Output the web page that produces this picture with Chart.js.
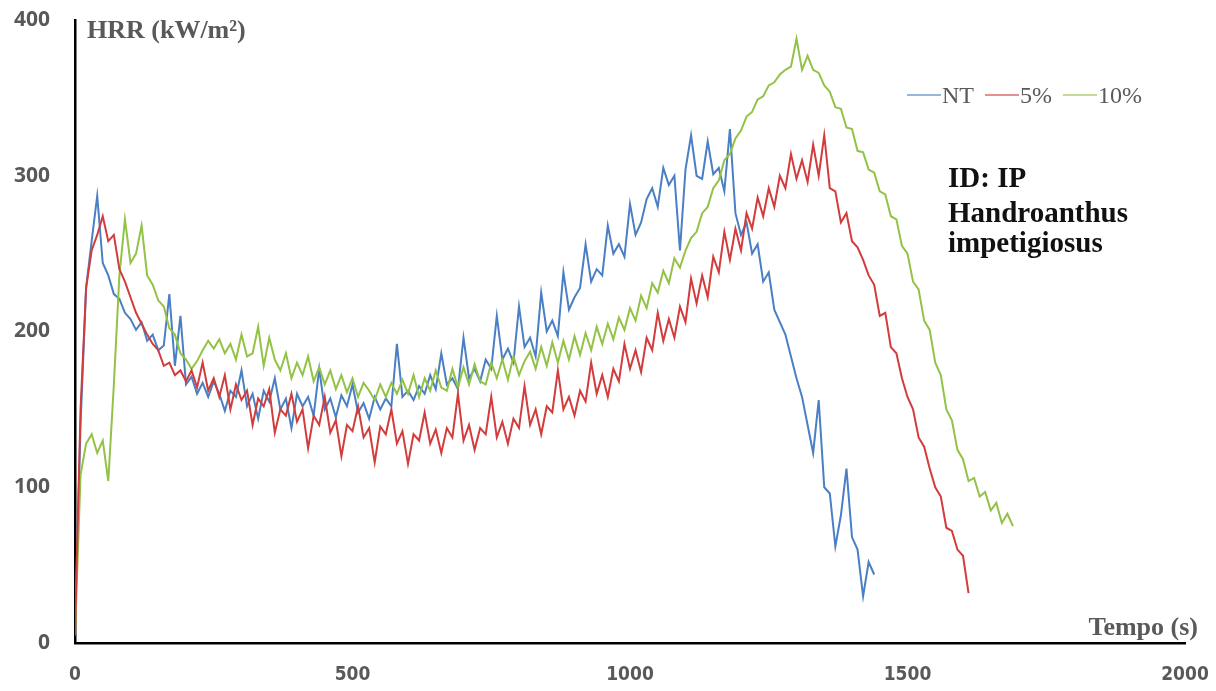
<!DOCTYPE html>
<html>
<head>
<meta charset="utf-8">
<title>HRR - Handroanthus impetigiosus</title>
<script src="https://cdn.jsdelivr.net/npm/chart.js@4.4.1/dist/chart.umd.min.js"></script>
<style>
  html, body { margin: 0; padding: 0; background: #fff; }
  #wrap { width: 1216px; height: 691px; }
</style>
</head>
<body>
<div id="wrap"><canvas id="hrrChart" width="1216" height="691"></canvas></div>
<script>
// Sampling times (s), shared by the three cone calorimeter runs
const tempo = [
  0, 10, 20, 30, 40, 50, 60, 70, 80, 90, 100, 110, 120, 130, 140, 150, 160, 170, 180, 190,
  200, 210, 220, 230, 240, 250, 260, 270, 280, 290, 300, 310, 320, 330, 340, 350, 360, 370, 380, 390,
  400, 410, 420, 430, 440, 450, 460, 470, 480, 490, 500, 510, 520, 530, 540, 550, 560, 570, 580, 590,
  600, 610, 620, 630, 640, 650, 660, 670, 680, 690, 700, 710, 720, 730, 740, 750, 760, 770, 780, 790,
  800, 810, 820, 830, 840, 850, 860, 870, 880, 890, 900, 910, 920, 930, 940, 950, 960, 970, 980, 990,
  1000, 1010, 1020, 1030, 1040, 1050, 1060, 1070, 1080, 1090, 1100, 1110, 1120, 1130, 1140, 1150, 1160, 1170, 1180, 1190,
  1200, 1210, 1220, 1230, 1240, 1250, 1260, 1270, 1280, 1290, 1300, 1310, 1320, 1330, 1340, 1350, 1360, 1370, 1380, 1390,
  1400, 1410, 1420, 1430, 1440, 1450, 1460, 1470, 1480, 1490, 1500, 1510, 1520, 1530, 1540, 1550, 1560, 1570, 1580, 1590,
  1600, 1610, 1620, 1630, 1640, 1650, 1660, 1670, 1680, 1690
];

// Heat release rate (kW/m2) per treatment
const hrrNT = [
  12, 140, 228, 258, 287, 244, 236, 224, 221, 212, 208, 201, 206, 194, 198, 188, 191, 224, 178, 210,
  166, 171, 160, 167, 158, 168, 160, 149, 162, 158, 175, 152, 160, 144, 162, 155, 170, 150, 157, 138,
  160, 152, 158, 146, 176, 150, 157, 145, 159, 152, 166, 148, 154, 144, 158, 150, 157, 152, 192, 158,
  162, 156, 165, 160, 172, 163, 186, 166, 170, 163, 196, 170, 176, 168, 182, 176, 210, 182, 189, 180,
  216, 190, 196, 184, 225, 200, 207, 197, 238, 214, 222, 228, 256, 232, 240, 236, 268, 250, 256, 248,
  282, 262, 270, 285, 292, 280, 305, 294, 300, 252, 304, 326, 300, 298, 322, 301, 305, 290, 330, 276,
  262, 270, 250, 256, 232, 238, 214, 206, 198, 184, 170, 158, 140, 122, 156, 100, 96, 62, 82, 112,
  68, 60, 30, 52, 44
];

const hrr5 = [
  5, 150, 228, 252, 262, 274, 258, 262, 240, 232, 222, 212, 205, 198, 192, 188, 178, 180, 172, 175,
  168, 175, 164, 180, 162, 170, 158, 172, 150, 166, 156, 162, 140, 157, 152, 163, 135, 150, 146, 160,
  142, 150, 125, 146, 140, 158, 135, 143, 120, 140, 136, 152, 132, 138, 116, 139, 134, 150, 128, 136,
  115, 134, 130, 148, 128, 137, 122, 138, 132, 160, 130, 140, 124, 138, 134, 158, 132, 142, 128, 144,
  138, 165, 140, 150, 134, 152, 148, 175, 150, 158, 146, 162, 155, 180, 160, 172, 158, 176, 168, 192,
  176, 188, 174, 196, 188, 212, 194, 208, 196, 216, 206, 234, 218, 236, 222, 248, 238, 264, 246, 266,
  252, 276, 266, 286, 274, 292, 280, 300, 292, 314, 298, 310, 296, 320, 300, 326, 292, 290, 270, 276,
  258, 254, 246, 236, 230, 210, 212, 190, 186, 170, 158, 150, 132, 126, 112, 100, 94, 74, 72, 60,
  56, 32
];

const hrr10 = [
  5, 108, 128, 134, 122, 130, 104, 166, 236, 272, 244, 250, 268, 236, 230, 220, 216, 202, 198, 186,
  182, 176, 181, 188, 194, 189, 195, 186, 192, 182, 198, 184, 186, 203, 178, 196, 182, 175, 186, 170,
  180, 172, 184, 168, 177, 166, 175, 163, 172, 161, 170, 158, 167, 162, 156, 166, 158, 167, 160, 169,
  160, 172, 158, 170, 162, 175, 164, 162, 176, 164, 177, 166, 179, 168, 166, 180, 170, 182, 169, 184,
  172, 181, 187, 176, 190, 178, 193, 180, 194, 182, 197, 185, 199, 188, 203, 192, 205, 195, 209, 201,
  215, 207, 223, 215, 231, 225, 239, 231, 247, 241, 252, 260, 264, 276, 280, 292, 297, 310, 314, 324,
  329, 338, 341, 349, 351, 358, 360, 365, 368, 370, 388, 368, 377, 368, 366, 358, 354, 344, 343, 331,
  330, 316, 315, 304, 302, 290, 288, 274, 272, 255, 250, 232, 227, 207, 201, 180, 172, 150, 143, 124,
  118, 104, 106, 94, 97, 85, 90, 77, 83, 75
];

const seriesNames = ['NT', '5%', '10%'];
const seriesColors = ['#4a7fc4', '#d23c3c', '#93c246'];
const yTicks = [0, 100, 200, 300, 400];
const xTicks = [0, 500, 1000, 1500, 2000];

const ID_LINES = ['ID: IP', 'Handroanthus', 'impetigiosus'];

function toPoints(values) {
  return values.map((v, i) => ({ x: tempo[i], y: v }));
}

// Axis titles, legend and sample label drawn straight onto the canvas
const overlayPlugin = {
  id: 'overlay',
  afterDraw(chart) {
    const ctx = chart.ctx;
    ctx.save();

    ctx.fillStyle = '#595959';
    ctx.textBaseline = 'alphabetic';
    ctx.font = 'bold 26px "Liberation Serif", "Times New Roman", serif';
    ctx.textAlign = 'left';
    ctx.fillText('HRR (kW/m\u00B2)', 87, 38);
    ctx.textAlign = 'right';
    ctx.fillText('Tempo (s)', 1198, 635);

    // legend: short line then name
    ctx.textAlign = 'left';
    ctx.font = '24px "Liberation Serif", "Times New Roman", serif';
    let x = 907;
    const y = 95;
    seriesNames.forEach((name, i) => {
      ctx.strokeStyle = seriesColors[i];
      ctx.globalAlpha = 0.75;
      ctx.lineWidth = 1.3;
      ctx.beginPath();
      ctx.moveTo(x, y);
      ctx.lineTo(x + 34, y);
      ctx.stroke();
      ctx.globalAlpha = 1;
      ctx.fillStyle = '#595959';
      ctx.fillText(name, x + 35, y + 8);
      x += 35 + ctx.measureText(name).width + 11;
    });

    ctx.fillStyle = '#111';
    ctx.font = 'bold 29px "Liberation Serif", "Times New Roman", serif';
    const baselines = [187, 222, 252];
    ID_LINES.forEach((line, i) => ctx.fillText(line, 948, baselines[i]));

    ctx.restore();
  }
};

const ctx = document.getElementById('hrrChart').getContext('2d');

new Chart(ctx, {
  type: 'line',
  data: {
    datasets: [
      { label: seriesNames[0], data: toPoints(hrrNT), borderColor: seriesColors[0], order: 3 },
      { label: seriesNames[1], data: toPoints(hrr5), borderColor: seriesColors[1], order: 1 },
      { label: seriesNames[2], data: toPoints(hrr10), borderColor: seriesColors[2], order: 2 }
    ]
  },
  options: {
    responsive: false,
    animation: false,
    datasets: {
      line: {
        borderWidth: 2,
        pointRadius: 0,
        tension: 0,
        fill: false
      }
    },
    layout: {
      padding: { top: 20, right: 31, left: 0, bottom: 0 }
    },
    plugins: {
      legend: { display: false },
      tooltip: { enabled: false }
    },
    scales: {
      x: {
        type: 'linear',
        min: 0,
        max: 2000,
        afterBuildTicks: axis => { axis.ticks = xTicks.map(v => ({ value: v })); },
        afterFit: axis => {
          axis.height = 48;
          axis.paddingLeft = 0;
          axis.paddingRight = 0;
        },
        grid: { display: false, drawTicks: false },
        border: { display: true, color: '#000', width: 2.5 },
        ticks: {
          padding: 21,
          color: '#595959',
          maxRotation: 0,
          callback: v => String(v),
          font: { family: '"DejaVu Sans Condensed", "DejaVu Sans", sans-serif', size: 19, weight: 'bold' }
        }
      },
      y: {
        min: 0,
        max: 400,
        afterBuildTicks: axis => { axis.ticks = yTicks.map(v => ({ value: v })); },
        afterFit: axis => {
          axis.width = 75;
          axis.paddingTop = 0;
          axis.paddingBottom = 0;
        },
        grid: { display: false, drawTicks: false },
        border: { display: true, color: '#000', width: 2.5 },
        ticks: {
          padding: 25,
          color: '#595959',
          callback: v => String(v),
          font: { family: '"Open Sans", sans-serif', size: 21, weight: 'bold' }
        }
      }
    }
  },
  plugins: [overlayPlugin]
});
</script>
</body>
</html>
